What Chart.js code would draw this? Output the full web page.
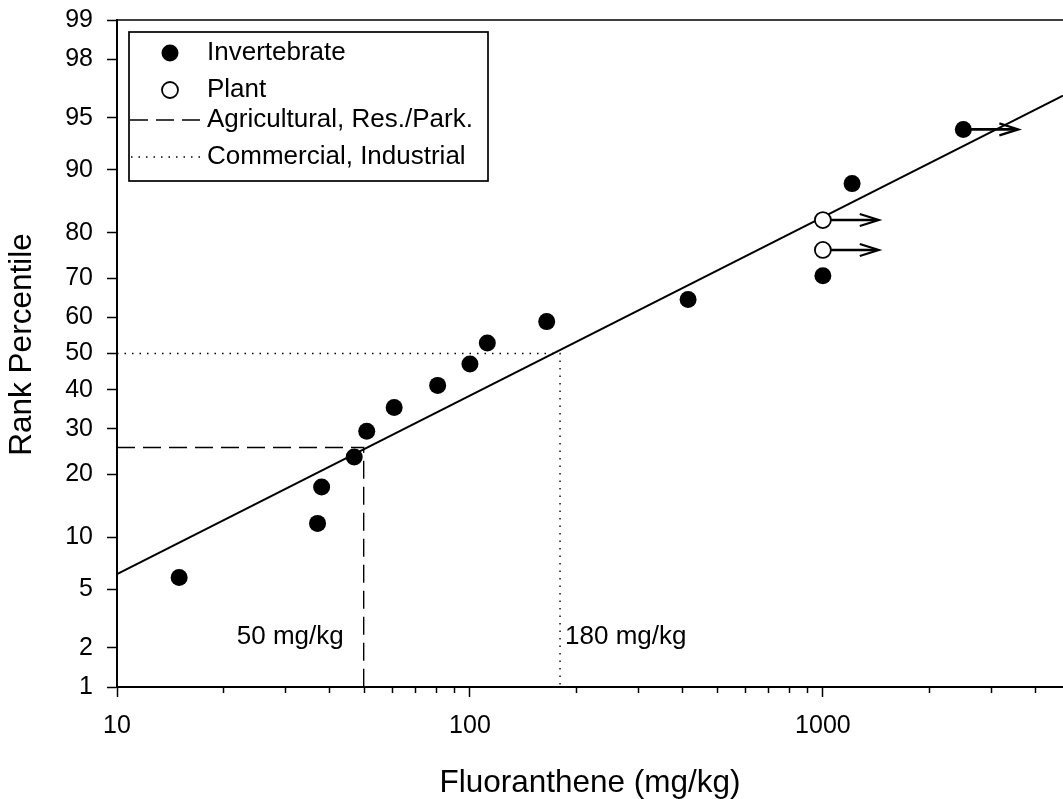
<!DOCTYPE html>
<html>
<head>
<meta charset="utf-8">
<script src="https://cdn.jsdelivr.net/npm/chart.js@4.4.1/dist/chart.umd.min.js"></script>
<style>
  html, body { margin: 0; padding: 0; background: #fff; overflow: hidden; }
  canvas { display: block; }
</style>
</head>
<body>
<canvas id="chart" width="1063" height="799"></canvas>
<script>
// Fluoranthene toxicity data (mg/kg) against rank percentile
const invertebrateConc = [15, 37, 38, 47, 51, 61, 81, 100, 112, 165, 415, 1000, 1210, 2500];
const invertebrateRank = [5.9, 11.8, 17.6, 23.5, 29.4, 35.3, 41.2, 47.1, 52.9, 58.8, 64.7, 70.6, 88.2, 94.1];
const plantConc = [1000, 1000];
const plantRank = [76.5, 82.4];

// Fitted distribution line (end points)
const fitConc = [10, 4790];
const fitRank = [6.2, 96.4];

// Screening levels
const agriConc = 50;
const agriRank = 25.6;
const commConc = 180;
const commRank = 50;

// "Greater than" values, drawn with arrows
const arrowConc = [1000, 1000, 2500];
const arrowRank = [82.4, 76.5, 94.1];
const arrowTipConc = [1440, 1440, 3580];

// Axis ticks
const xMin = 10;
const xMax = 4790;
const xTicks = [10, 20, 30, 40, 50, 60, 70, 80, 90, 100, 200, 300, 400, 500, 600, 700, 800, 900, 1000, 2000, 3000, 4000];
const xLabelled = [10, 100, 1000];
const yTicks = [1, 2, 5, 10, 20, 30, 40, 50, 60, 70, 80, 90, 95, 98, 99];

const FONT = "'Liberation Sans', Arial, Helvetica, sans-serif";
Chart.defaults.font.family = FONT;
Chart.defaults.color = '#000';

// Inverse standard normal CDF (Acklam)
function probit(p) {
  const a = [-3.969683028665376e+01, 2.209460984245205e+02, -2.759285104469687e+02, 1.383577518672690e+02, -3.066479806614716e+01, 2.506628277459239e+00];
  const b = [-5.447609879822406e+01, 1.615858368580409e+02, -1.556989798598866e+02, 6.680131188771972e+01, -1.328068155288572e+01];
  const c = [-7.784894002430293e-03, -3.223964580411365e-01, -2.400758277161838e+00, -2.549732539343734e+00, 4.374664141464968e+00, 2.938163982698783e+00];
  const d = [7.784695709041462e-03, 3.224671290700398e-01, 2.445134137142996e+00, 3.754408661907416e+00];
  const pl = 0.02425, ph = 1 - pl;
  let q, r;
  if (p < pl) {
    q = Math.sqrt(-2 * Math.log(p));
    return (((((c[0]*q+c[1])*q+c[2])*q+c[3])*q+c[4])*q+c[5]) / ((((d[0]*q+d[1])*q+d[2])*q+d[3])*q+1);
  }
  if (p <= ph) {
    q = p - 0.5; r = q * q;
    return (((((a[0]*r+a[1])*r+a[2])*r+a[3])*r+a[4])*r+a[5])*q / (((((b[0]*r+b[1])*r+b[2])*r+b[3])*r+b[4])*r+1);
  }
  q = Math.sqrt(-2 * Math.log(1 - p));
  return -(((((c[0]*q+c[1])*q+c[2])*q+c[3])*q+c[4])*q+c[5]) / ((((d[0]*q+d[1])*q+d[2])*q+d[3])*q+1);
}

// Standard normal CDF
function normCdf(z) {
  const t = 1 / (1 + 0.3275911 * Math.abs(z) / Math.SQRT2);
  const y = 1 - (((((1.061405429*t - 1.453152027)*t) + 1.421413741)*t - 0.284496736)*t + 0.254829592)*t * Math.exp(-z*z/2);
  return z >= 0 ? (1 + y) / 2 : (1 - y) / 2;
}

// Normal probability (probit) axis for percentiles
class ProbitScale extends Chart.Scale {
  determineDataLimits() {
    this.min = this.options.min;
    this.max = this.options.max;
  }
  buildTicks() {
    return yTicks.map(v => ({ value: v }));
  }
  getLabelForValue(v) { return String(v); }
  configure() {
    super.configure();
    this._zStart = probit(this.min / 100);
    this._zRange = probit(this.max / 100) - this._zStart;
  }
  getPixelForValue(v) {
    return this.getPixelForDecimal((probit(v / 100) - this._zStart) / this._zRange);
  }
  getValueForPixel(p) {
    return 100 * normCdf(this._zStart + this.getDecimalForPixel(p) * this._zRange);
  }
}
ProbitScale.id = 'probit';
ProbitScale.defaults = {};
Chart.register(ProbitScale);

const toPoints = (xs, ys) => xs.map((v, i) => ({ x: v, y: ys[i] }));

// Arrows, frame, minor ticks, notes and legend
const decor = {
  id: 'decor',
  beforeDatasetsDraw(chart) {
    const { ctx, scales: { x, y } } = chart;
    ctx.save();
    ctx.strokeStyle = '#000';
    ctx.lineCap = 'butt';
    ctx.lineJoin = 'miter';
    arrowConc.forEach((c, i) => {
      const x0 = x.getPixelForValue(c);
      const yy = y.getPixelForValue(arrowRank[i]);
      const x1 = x.getPixelForValue(arrowTipConc[i]);
      ctx.lineWidth = 2.6;
      ctx.beginPath();
      ctx.moveTo(x0, yy);
      ctx.lineTo(x1 - 2, yy);
      ctx.stroke();
      ctx.lineWidth = 2.2;
      ctx.beginPath();
      ctx.moveTo(x1 - 19, yy - 6);
      ctx.lineTo(x1, yy);
      ctx.lineTo(x1 - 19, yy + 6);
      ctx.stroke();
    });
    ctx.restore();
  },
  afterDraw(chart) {
    const { ctx, chartArea: area, scales: { x, y } } = chart;
    ctx.save();

    // top frame line
    ctx.strokeStyle = '#000';
    ctx.lineWidth = 1.5;
    ctx.beginPath();
    ctx.moveTo(area.left - 1, area.top);
    ctx.lineTo(area.right, area.top);
    ctx.stroke();

    // minor ticks on the concentration axis
    ctx.lineWidth = 1.5;
    xTicks.filter(v => !xLabelled.includes(v)).forEach(v => {
      const px = Math.round(x.getPixelForValue(v)) + 0.5;
      ctx.beginPath();
      ctx.moveTo(px, area.bottom);
      ctx.lineTo(px, area.bottom + 6);
      ctx.stroke();
    });

    // screening level notes
    ctx.fillStyle = '#000';
    ctx.font = '26px ' + FONT;
    ctx.textBaseline = 'middle';
    ctx.textAlign = 'right';
    ctx.fillText(agriConc + ' mg/kg', x.getPixelForValue(agriConc) - 20, 637);
    ctx.textAlign = 'left';
    ctx.fillText(commConc + ' mg/kg', x.getPixelForValue(commConc) + 5, 637);

    // y axis title
    ctx.save();
    ctx.font = '31.5px ' + FONT;
    ctx.translate(22.5, 344.5);
    ctx.rotate(-Math.PI / 2);
    ctx.textAlign = 'center';
    ctx.textBaseline = 'middle';
    ctx.fillText('Rank Percentile', 0, 0);
    ctx.restore();

    // legend
    const bx = 129, by = 32, bw = 359, bh = 149;
    ctx.fillStyle = '#fff';
    ctx.fillRect(bx, by, bw, bh);
    ctx.strokeStyle = '#000';
    ctx.lineWidth = 1.7;
    ctx.strokeRect(bx, by, bw, bh);

    const textX = 207;
    const rows = [53, 90, 120, 157];
    ctx.fillStyle = '#000';
    ctx.beginPath();
    ctx.arc(170, rows[0], 8.5, 0, Math.PI * 2);
    ctx.fill();

    ctx.beginPath();
    ctx.arc(170, rows[1], 8, 0, Math.PI * 2);
    ctx.fillStyle = '#fff';
    ctx.fill();
    ctx.lineWidth = 1.8;
    ctx.stroke();

    ctx.lineWidth = 1.4;
    ctx.setLineDash([18, 8]);
    ctx.beginPath();
    ctx.moveTo(130, rows[2]);
    ctx.lineTo(200, rows[2]);
    ctx.stroke();

    ctx.setLineDash([1.5, 6]);
    ctx.beginPath();
    ctx.moveTo(131, rows[3]);
    ctx.lineTo(200, rows[3]);
    ctx.stroke();
    ctx.setLineDash([]);

    ctx.fillStyle = '#000';
    ctx.font = '26px ' + FONT;
    ctx.textAlign = 'left';
    ctx.textBaseline = 'middle';
    ctx.fillText('Invertebrate', textX, rows[0]);
    ctx.fillText('Plant', textX, rows[1]);
    ctx.fillText('Agricultural, Res./Park.', textX, rows[2]);
    ctx.fillText('Commercial, Industrial', textX, rows[3]);

    ctx.restore();
  }
};

new Chart(document.getElementById('chart'), {
  type: 'scatter',
  data: {
    datasets: [
      {
        label: 'Invertebrate',
        data: toPoints(invertebrateConc, invertebrateRank),
        pointRadius: 8.5,
        pointBackgroundColor: '#000',
        pointBorderColor: '#000',
        pointBorderWidth: 0,
        order: 0
      },
      {
        label: 'Plant',
        data: toPoints(plantConc, plantRank),
        pointRadius: 8,
        pointBackgroundColor: '#fff',
        pointBorderColor: '#000',
        pointBorderWidth: 1.8,
        order: 0
      },
      {
        label: 'Fit',
        data: toPoints(fitConc, fitRank),
        showLine: true,
        borderColor: '#000',
        borderWidth: 2,
        pointRadius: 0,
        order: 2
      },
      {
        label: 'Agricultural, Res./Park.',
        data: [{ x: xMin, y: agriRank }, { x: agriConc, y: agriRank }, { x: agriConc, y: yTicks[0] }],
        showLine: true,
        borderColor: '#000',
        borderWidth: 1.4,
        borderDash: [18, 8],
        pointRadius: 0,
        order: 3
      },
      {
        label: 'Commercial, Industrial',
        data: [{ x: xMin, y: commRank }, { x: commConc, y: commRank }, { x: commConc, y: yTicks[0] }],
        showLine: true,
        borderColor: '#000',
        borderWidth: 1.4,
        borderDash: [1.5, 6],
        pointRadius: 0,
        order: 3
      }
    ]
  },
  options: {
    responsive: false,
    animation: false,
    events: [],
    layout: { autoPadding: false, padding: { top: 20, right: 0, bottom: 0, left: 0 } },
    plugins: {
      legend: { display: false },
      tooltip: { enabled: false }
    },
    scales: {
      x: {
        type: 'logarithmic',
        position: 'bottom',
        min: xMin,
        max: xMax,
        afterBuildTicks: (scale) => {
          scale.ticks = xTicks.map(v => ({ value: v }));
        },
        afterFit: (scale) => {
          scale.height = 112;
          scale.paddingLeft = 0;
          scale.paddingRight = 0;
        },
        border: { display: true, color: '#000', width: 2 },
        grid: {
          drawOnChartArea: false,
          drawTicks: true,
          tickLength: 10,
          tickWidth: 1.5,
          tickColor: (ctx) => (ctx.tick && xLabelled.includes(ctx.tick.value)) ? '#000' : 'rgba(0,0,0,0)'
        },
        ticks: {
          autoSkip: false,
          maxRotation: 0,
          padding: 14,
          color: '#000',
          font: { size: 25 },
          callback: (v) => xLabelled.includes(v) ? String(v) : ''
        },
        title: {
          display: true,
          text: 'Fluoranthene (mg/kg)',
          color: '#000',
          font: { size: 31.5, lineHeight: 1.0 },
          padding: { top: 0, bottom: 0 }
        }
      },
      y: {
        type: 'probit',
        position: 'left',
        min: 1,
        max: 99,
        afterFit: (scale) => {
          scale.width = 117;
          scale.paddingTop = 0;
          scale.paddingBottom = 0;
        },
        border: { display: true, color: '#000', width: 2 },
        grid: {
          drawOnChartArea: false,
          drawTicks: true,
          tickLength: 10,
          tickWidth: 1.5,
          tickColor: '#000'
        },
        ticks: {
          autoSkip: false,
          padding: 14,
          color: '#000',
          font: { size: 25 }
        }
      }
    }
  },
  plugins: [decor]
});
</script>
</body>
</html>
